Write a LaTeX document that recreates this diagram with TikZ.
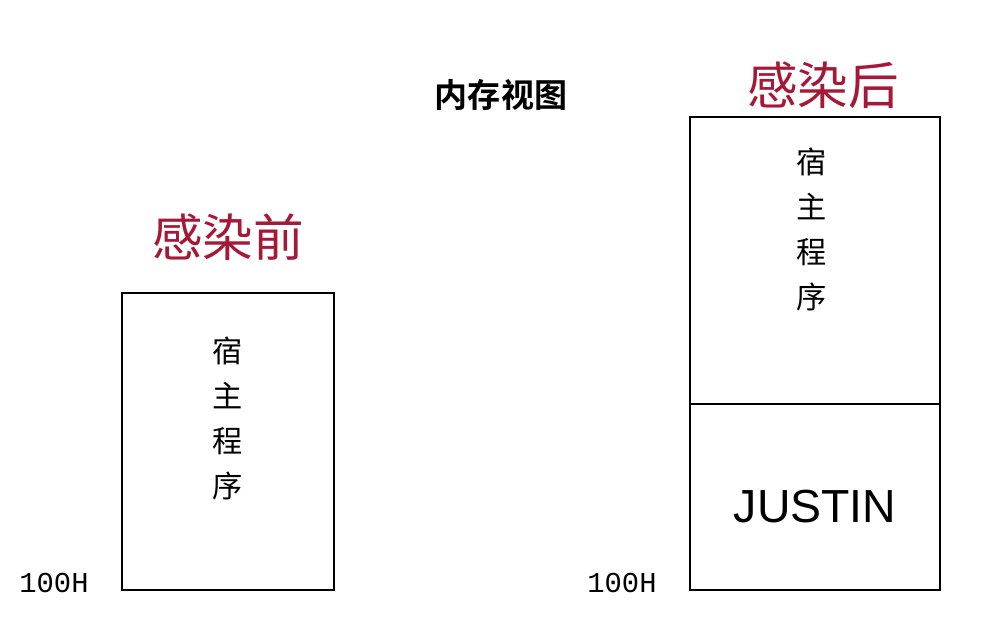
\documentclass[tikz,border=0pt]{standalone}
\usepackage{fontspec}
\setmainfont{Liberation Sans}
\setmonofont{Liberation Mono}
\newfontfamily\cjk{Noto Sans CJK SC}
\newfontfamily\cjkbold{Noto Sans CJK SC Bold}
\definecolor{infred}{RGB}{165,25,55}
\tikzset{
  membox/.style={draw, line width=1.3pt},
  redlabel/.style={text=infred, font=\cjk\fontsize{36}{36}\selectfont, inner sep=0pt},
  addr/.style={font=\ttfamily\fontsize{20.5}{20.5}\selectfont, inner sep=0pt},
  vtext/.style={font=\cjk\fontsize{21.5}{32}\selectfont, align=center, inner sep=0pt}
}
\begin{document}
\begin{tikzpicture}[x=0.025cm,y=-0.025cm]
	\useasboundingbox (0,0) rectangle (994,636);
	% title
	\node[font=\cjkbold\fontsize{23.5}{23.5}\selectfont, inner sep=0pt] (title) at (501,95) {内存视图};
	% before infection
	\node[redlabel] (before) at (228,237) {感染前};
	\draw[membox] (122,293) rectangle (334,590);
	\node[vtext] (hostA) at (228,418) {宿\\主\\程\\序};
	\node[addr] (addrA) at (54,583) {100H};
	% after infection
	\node[redlabel] (after) at (823,85) {感染后};
	\draw[membox] (690,117) rectangle (940,590);
	\draw[membox] (690,404) -- (940,404);
	\node[vtext] (hostB) at (812,229) {宿\\主\\程\\序};
	\node[font=\fontsize{33}{33}\selectfont, inner sep=0pt] (virus) at (815,507) {JUSTIN};
	\node[addr] (addrB) at (622,583) {100H};
\end{tikzpicture}
\end{document}
